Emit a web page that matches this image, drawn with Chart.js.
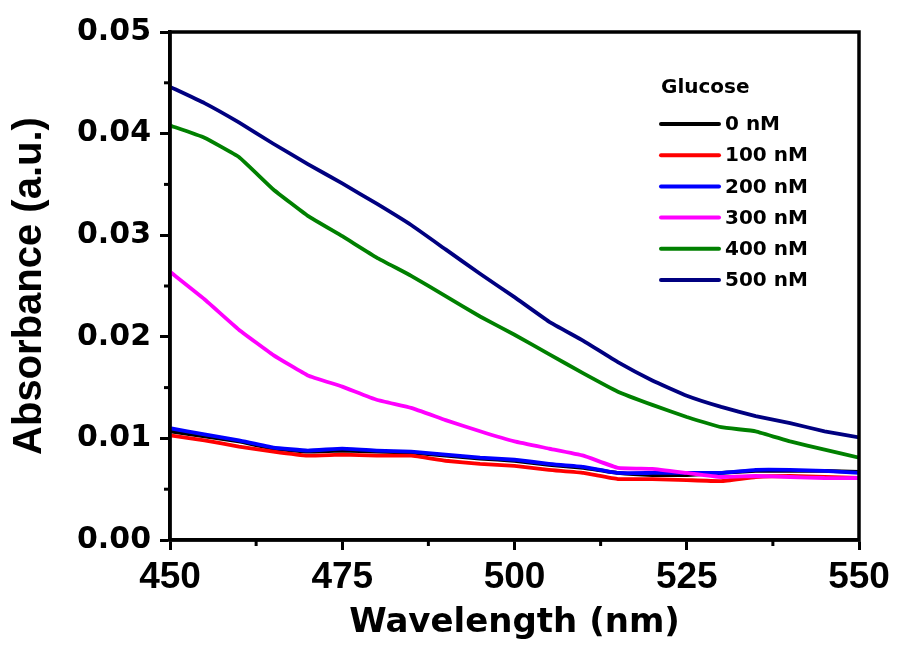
<!DOCTYPE html>
<html>
<head>
<meta charset="utf-8">
<title>Absorbance vs wavelength</title>
<script src="https://cdn.jsdelivr.net/npm/chart.js@4"></script>
<style>
  body { margin: 0; background: #fff; }
  #wrap { width: 897px; height: 646px; }
</style>
</head>
<body>
<div id="wrap"><canvas id="myChart" width="897" height="646"></canvas></div>
<script>
// wavelength grid (nm)
var wavelengths = [450,455,460,465,470,475,480,485,490,495,500,505,510,515,520,525,530,535,540,545,550];

// absorbance, one list per glucose concentration
var abs0nM   = [0.0107,0.0102,0.0097,0.0090,0.0087,0.0088,0.0087,0.0086,0.0083,0.0080,0.0078,0.0074,0.0071,0.0066,0.0064,0.0064,0.0066,0.0068,0.0068,0.0068,0.0067];
var abs100nM = [0.0103,0.0098,0.0092,0.0087,0.0083,0.0084,0.0083,0.0083,0.0078,0.0075,0.0073,0.0069,0.0066,0.0060,0.0060,0.0059,0.0058,0.0062,0.0063,0.0062,0.0061];
var abs200nM = [0.0110,0.0104,0.0098,0.0091,0.0088,0.0090,0.0088,0.0087,0.0084,0.0081,0.0079,0.0075,0.0072,0.0066,0.0066,0.0066,0.0066,0.0069,0.0069,0.0068,0.0066];
var abs300nM = [0.0264,0.0237,0.0207,0.0182,0.0162,0.0151,0.0138,0.0130,0.0118,0.0107,0.0097,0.0090,0.0083,0.0071,0.0070,0.0066,0.0062,0.0063,0.0062,0.0061,0.0061];
var abs400nM = [0.0408,0.0396,0.0377,0.0345,0.0319,0.0299,0.0278,0.0260,0.0240,0.0220,0.0202,0.0183,0.0164,0.0146,0.0133,0.0121,0.0111,0.0107,0.0097,0.0089,0.0081];
var abs500nM = [0.0446,0.0430,0.0411,0.0390,0.0370,0.0351,0.0331,0.0310,0.0286,0.0262,0.0239,0.0215,0.0196,0.0175,0.0157,0.0142,0.0131,0.0122,0.0115,0.0107,0.0101];

var seriesLabels = ["0 nM","100 nM","200 nM","300 nM","400 nM","500 nM"];
var seriesColors = ["#000000","#ff0000","#0000ff","#ff00ff","#008000","#000080"];
var seriesData = [abs0nM, abs100nM, abs200nM, abs300nM, abs400nM, abs500nM];
var drawOrder = [6,5,4,3,2,1];

function toPoints(ys) {
  return ys.map(function (y, i) { return {x: wavelengths[i], y: y}; });
}

function isMajorX(v) { return v % 25 === 0; }
function isMajorY(v) { return Math.round(v * 1000) % 10 === 0; }

// box around the plot area + short minor ticks
const frameBox = {
  id: "frameBox",
  afterDraw(chart) {
    const a = chart.chartArea, ctx = chart.ctx;
    ctx.save();
    ctx.strokeStyle = "#000";
    ctx.lineWidth = 3.5;
    ctx.strokeRect(a.left, a.top, a.right - a.left, a.bottom - a.top);
    ctx.lineWidth = 3;
    const xs = chart.scales.x, ys = chart.scales.y;
    xs.ticks.forEach(function (t) {
      if (isMajorX(t.value)) return;
      const px = xs.getPixelForValue(t.value);
      ctx.beginPath();
      ctx.moveTo(px, a.bottom);
      ctx.lineTo(px, a.bottom + 6);
      ctx.stroke();
    });
    ys.ticks.forEach(function (t) {
      if (isMajorY(t.value)) return;
      const py = ys.getPixelForValue(t.value);
      ctx.beginPath();
      ctx.moveTo(a.left, py);
      ctx.lineTo(a.left - 6, py);
      ctx.stroke();
    });
    ctx.restore();
  }
};

// legend drawn inside the plot, top right
const insideLegend = {
  id: "insideLegend",
  afterDraw(chart) {
    const ctx = chart.ctx;
    ctx.save();
    ctx.fillStyle = "#000";
    ctx.textBaseline = "middle";
    ctx.textAlign = "left";
    ctx.font = "bold 20px 'DejaVu Sans'";
    ctx.fillText("Glucose", 661, 88);
    chart.data.datasets.forEach(function (ds, i) {
      const y = 124 + i * 31.2;
      ctx.strokeStyle = ds.borderColor;
      ctx.lineWidth = 4;
      ctx.lineCap = "round";
      ctx.beginPath();
      ctx.moveTo(661, y);
      ctx.lineTo(719, y);
      ctx.stroke();
      ctx.fillStyle = "#000";
      ctx.fillText(ds.label, 725, y + 1);
    });
    ctx.restore();
  }
};

new Chart("myChart", {
  type: "line",
  data: {
    datasets: seriesData.map(function (d, i) {
      return {
        label: seriesLabels[i],
        data: toPoints(d),
        borderColor: seriesColors[i],
        backgroundColor: seriesColors[i],
        borderWidth: 3.8,
        pointRadius: 0,
        tension: 0.1,
        fill: false,
        order: drawOrder[i]
      };
    })
  },
  options: {
    responsive: false,
    animation: false,
    layout: {padding: {top: 32, right: 38, left: 0, bottom: 0}},
    plugins: {legend: {display: false}, tooltip: {enabled: false}},
    scales: {
      x: {
        type: "linear",
        min: 450, max: 550,
        afterFit: function (s) { s.height = 106; },
        ticks: {
          stepSize: 12.5,
          color: "#000",
          padding: 6,
          maxRotation: 0,
          font: {family: "'Liberation Sans', Arial", weight: "bold", size: 37},
          callback: function (v) { return isMajorX(v) ? String(v) : ""; }
        },
        grid: {
          drawOnChartArea: false, tickLength: 10, tickWidth: 3,
          tickColor: function (c) { return c.tick && isMajorX(c.tick.value) ? "#000" : "rgba(0,0,0,0)"; }
        },
        border: {display: true, color: "#000", width: 3.5},
        title: {
          display: true, text: "Wavelength (nm)", color: "#000",
          font: {family: "'DejaVu Sans'", weight: "bold", size: 34},
          padding: {top: 0, bottom: 2}
        }
      },
      y: {
        min: 0, max: 0.05,
        afterFit: function (s) { s.width = 170; },
        ticks: {
          stepSize: 0.005,
          color: "#000",
          padding: 9,
          font: {family: "'DejaVu Sans'", weight: "bold", size: 30},
          callback: function (v) { return isMajorY(v) ? v.toFixed(2) : ""; }
        },
        grid: {
          drawOnChartArea: false, tickLength: 10, tickWidth: 3,
          tickColor: function (c) { return c.tick && isMajorY(c.tick.value) ? "#000" : "rgba(0,0,0,0)"; }
        },
        border: {display: true, color: "#000", width: 3.5},
        title: {
          display: true, text: "Absorbance (a.u.)", color: "#000",
          font: {family: "'Liberation Sans', Arial", weight: "bold", size: 40},
          padding: {top: 6, bottom: 0}
        }
      }
    }
  },
  plugins: [frameBox, insideLegend]
});
</script>
</body>
</html>
